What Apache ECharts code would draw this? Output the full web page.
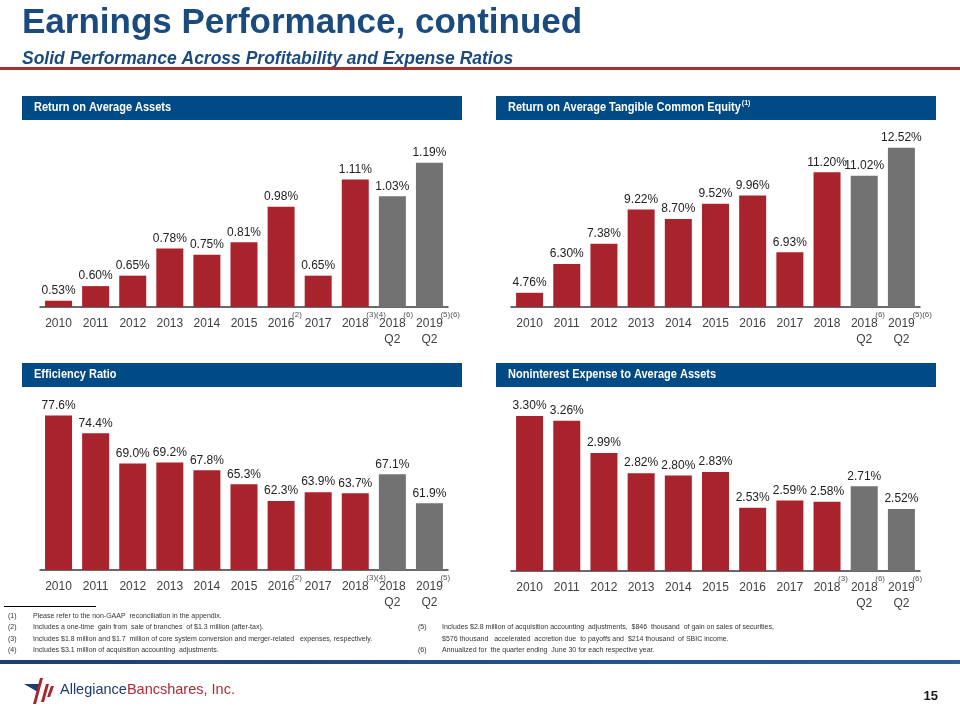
<!DOCTYPE html>
<html><head><meta charset="utf-8">
<script src="https://cdn.jsdelivr.net/npm/echarts@6/dist/echarts.min.js"></script>
<style>html,body{margin:0;padding:0;background:#fff}#c{width:960px;height:720px}</style>
</head><body><div id="c"></div>
<script>
const categories = ['2010','2011','2012','2013','2014','2015','2016','2017','2018','2018\nQ2','2019\nQ2'];
const roaa   = [0.53,0.60,0.65,0.78,0.75,0.81,0.98,0.65,1.11,1.03,1.19];
const roatce = [4.76,6.30,7.38,9.22,8.70,9.52,9.96,6.93,11.20,11.02,12.52];
const effRatio = [77.6,74.4,69.0,69.2,67.8,65.3,62.3,63.9,63.7,67.1,61.9];
const nieRatio = [3.30,3.26,2.99,2.82,2.80,2.83,2.53,2.59,2.58,2.71,2.52];
const panelTitles = ['Return on Average Assets','Return on Average Tangible Common Equity','Efficiency Ratio','Noninterest Expense to Average Assets'];
const footnoteMarks = [
  {'2016':'(2)','2018':'(3)(4)','2018\nQ2':'(6)','2019\nQ2':'(5)(6)'},
  {'2018\nQ2':'(6)','2019\nQ2':'(5)(6)'},
  {'2016':'(2)','2018':'(3)(4)','2019\nQ2':'(5)'},
  {'2018':'(3)','2018\nQ2':'(6)','2019\nQ2':'(6)'}
];
const footnotesLeft = [
  ['(1)','Please refer to the non-GAAP  reconciliation in the appendix.'],
  ['(2)','Includes a one-time  gain from  sale of branches  of $1.3 million (after-tax).'],
  ['(3)','Includes $1.8 million and $1.7  million of core system conversion and merger-related   expenses, respectively.'],
  ['(4)','Includes $3.1 million of acquisition accounting  adjustments.']
];
const footnotesRight = [
  ['(5)','Includes $2.8 million of acquisition accounting  adjustments,  $846  thousand  of gain on sales of securities,'],
  ['','$576 thousand   accelerated  accretion due  to payoffs and  $214 thousand  of SBIC income.'],
  ['(6)','Annualized for  the quarter ending  June 30 for each respective year.']
];

const RED = '#a9232d', GRAY = '#727272', NAVY = '#004a86';
const FONT = '"Liberation Sans", Arial, sans-serif';
const chart = echarts.init(document.getElementById('c'), null, {renderer:'canvas'});

const grids = [
  {left:40, top:119, width:408, height:188},
  {left:511, top:120, width:409, height:187},
  {left:40, top:402, width:408, height:168},
  {left:511, top:404, width:409, height:167}
];
const yRanges = [[0.5,1.4],[4,14],[50,80],[2,3.4]];
const datasets = [roaa, roatce, effRatio, nieRatio];
const decimals = [2,2,1,2];

const option = {
  animation:false,
  grid: grids,
  xAxis: grids.map((g,i)=>({
    type:'category', gridIndex:i, data:categories,
    axisTick:{show:false},
    axisLine:{lineStyle:{color:'#3a3a3a', width:1.5}},
    axisLabel:{color:'#404040', fontFamily:FONT, fontSize:12, lineHeight:16, margin:9, interval:0}
  })),
  yAxis: grids.map((g,i)=>({
    type:'value', gridIndex:i, min:yRanges[i][0], max:yRanges[i][1], show:false, splitLine:{show:false}
  })),
  series: datasets.map((d,i)=>({
    type:'bar', xAxisIndex:i, yAxisIndex:i, data:d, barWidth:27,
    itemStyle:{color:(p)=> categories[p.dataIndex].indexOf('Q2')>=0 ? GRAY : RED},
    label:{show:true, position:'top', distance:4, color:'#222', fontFamily:FONT, fontSize:12,
      formatter:(p)=>p.value.toFixed(decimals[i])+'%'}
  }))
};
chart.setOption(option);

const graphics = [];
// title
graphics.push({type:'text', x:22, y:6, style:{text:'Earnings Performance, continued', font:'bold 35px '+FONT, fill:'#1b4a7e'}});
graphics.push({type:'text', x:22, y:50, style:{text:'Solid Performance Across Profitability and Expense Ratios', font:'italic bold 17.5px '+FONT, fill:'#1b4a7e'}});
graphics.push({type:'rect', shape:{x:0, y:67, width:960, height:3}, style:{fill:'#a8302f'}});
// panel headers
const headerRects = [[22,96],[496,96],[22,363],[496,363]];
const HSCALE = 0.88;
headerRects.forEach((h,i)=>{
  graphics.push({type:'rect', shape:{x:h[0], y:h[1], width:440, height:24}, style:{fill:NAVY}});
  graphics.push({type:'text', x:h[0]+12, y:h[1]+12, scaleX:HSCALE, style:{text:panelTitles[i], font:'bold 12.5px '+FONT, fill:'#fff', textVerticalAlign:'middle'}});
});
// header superscript (1)
(function(){
  const ctx = document.createElement('canvas').getContext('2d');
  ctx.font = 'bold 12.5px '+FONT;
  const w = ctx.measureText(panelTitles[1]).width*HSCALE;
  graphics.push({type:'text', x:496+12+w+1, y:100, style:{text:'(1)', font:'bold 7px '+FONT, fill:'#fff'}});
})();
// footnote rule
graphics.push({type:'rect', shape:{x:4, y:606, width:92, height:1}, style:{fill:'#000'}});
footnotesLeft.forEach((f,k)=>{
  graphics.push({type:'text', x:8, y:616+k*11.3, style:{text:f[0], font:'7px '+FONT, fill:'#333', textVerticalAlign:'middle'}});
  graphics.push({type:'text', x:33, y:616+k*11.3, style:{text:f[1], font:'7px '+FONT, fill:'#333', textVerticalAlign:'middle'}});
});
footnotesRight.forEach((f,k)=>{
  const yy = 627.3+k*11.3;
  if (f[0]) graphics.push({type:'text', x:418, y:yy, style:{text:f[0], font:'7px '+FONT, fill:'#333', textVerticalAlign:'middle'}});
  graphics.push({type:'text', x:442, y:yy, style:{text:f[1], font:'7px '+FONT, fill:'#333', textVerticalAlign:'middle'}});
});
// footer line
graphics.push({type:'rect', shape:{x:0, y:660, width:960, height:4}, style:{fill:new echarts.graphic.LinearGradient(0,0,1,0,[{offset:0,color:'#1c3f73'},{offset:1,color:'#2a5d9a'}])}});
// logo
graphics.push({type:'polygon', shape:{points:[[24,684],[40,684],[38,692]]}, style:{fill:'#1f3b70'}});
graphics.push({type:'polygon', shape:{points:[[40,678],[43,678],[36,704],[33,704]]}, style:{fill:RED}});
graphics.push({type:'polygon', shape:{points:[[46,684],[49,684],[44,702],[41,702]]}, style:{fill:RED}});
graphics.push({type:'polygon', shape:{points:[[51,686],[54,686],[50,697],[47,697]]}, style:{fill:RED}});
graphics.push({type:'text', x:60, y:690, style:{rich:{a:{fill:'#1f3b70', font:'14.5px '+FONT}, b:{fill:'#b02a30', font:'14.5px '+FONT}}, text:'{a|Allegiance}{b|Bancshares, Inc.}', textVerticalAlign:'middle'}});
graphics.push({type:'text', x:938, y:696, style:{text:'15', font:'bold 13px '+FONT, fill:'#1a1a1a', textAlign:'right', textVerticalAlign:'middle'}});

// footnote marks on axis labels, positioned via the axes
footnoteMarks.forEach((marks,i)=>{
  Object.keys(marks).forEach(cat=>{
    const pt = chart.convertToPixel({xAxisIndex:i, yAxisIndex:i},[cat, yRanges[i][0]]);
    graphics.push({type:'text', x:pt[0]+11, y:pt[1]+4, style:{text:marks[cat], font:'8px '+FONT, fill:'#555'}});
  });
});

chart.setOption({graphic:{elements:graphics}});
</script></body></html>
